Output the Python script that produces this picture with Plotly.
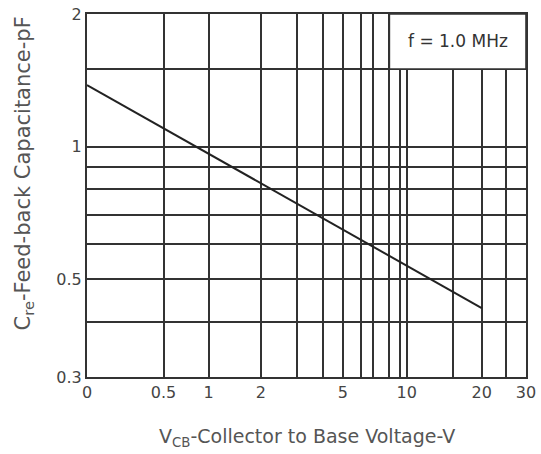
import numpy as np
import plotly.graph_objects as go

# ---- data ----
vcb = [0, 20]                 # V
cre = [1.38, 0.43]            # pF

# x-axis scale as drawn (voltage grid lines and their fraction along the axis)
x_grid_v = [0, 0.5, 1, 2, 3, 4, 5, 6, 7, 8, 9, 10, 15, 20, 25, 30]
x_grid_frac = [0, 0.1744, 0.2768, 0.3961, 0.4794, 0.5386, 0.5827, 0.6237,
               0.6524, 0.6888, 0.7132, 0.7284, 0.8331, 0.8992, 0.9545, 1.0]
x_tick_v = [0, 0.5, 1, 2, 5, 10, 20, 30]
x_tick_text = ["0", "0.5", "1", "2", "5", "10", "20", "30"]

y_grid = [0.3, 0.4, 0.5, 0.6, 0.7, 0.8, 0.9, 1, 1.5, 2]
y_tick_v = [0.3, 0.5, 1, 2]
y_tick_text = ["0.3", "0.5", "1", "2"]


def xs(v):
    return np.interp(v, x_grid_v, x_grid_frac)


ink = "#333333"
font = "DejaVu Sans, Verdana, sans-serif"

fig = go.Figure()
fig.add_trace(go.Scatter(x=xs(vcb), y=cre, mode="lines",
                         line=dict(color="#222222", width=2), hoverinfo="skip"))

# annotation box region (grid hidden behind it)
fig.add_shape(type="rect", xref="x", yref="y", x0=float(xs(8)), x1=1.0, y0=1.5, y1=2,
              fillcolor="white", line=dict(color=ink, width=1.6), layer="above")
fig.add_annotation(x=(float(xs(8)) + 1.0) / 2, y=np.log10(1.74), xref="x", yref="y",
                   text="f = 1.0 MHz", showarrow=False,
                   font=dict(family=font, size=17, color="#333"))

grid_minor_x = [float(xs(v)) for v in x_grid_v if v not in x_tick_v]
grid_minor_y = [v for v in y_grid if v not in y_tick_v]

fig.update_xaxes(range=[0, 1], tickmode="array", tickvals=[float(xs(v)) for v in x_tick_v],
                 ticktext=x_tick_text, automargin=False,
                 showgrid=True, gridcolor=ink, gridwidth=1.6, zeroline=False,
                 minor=dict(tickmode="array", tickvals=grid_minor_x, showgrid=True,
                            gridcolor=ink, gridwidth=1.6, ticks=""),
                 showline=True, linecolor=ink, linewidth=2, mirror=True,
                 ticks="", tickfont=dict(family=font, size=16, color="#444"))
fig.update_yaxes(type="log", range=[np.log10(0.3), np.log10(2)], tickmode="array",
                 tickvals=y_tick_v, ticktext=y_tick_text, automargin=False,
                 showgrid=True, gridcolor=ink, gridwidth=1.6, zeroline=False,
                 minor=dict(tickmode="array", tickvals=grid_minor_y, showgrid=True,
                            gridcolor=ink, gridwidth=1.6, ticks=""),
                 showline=True, linecolor=ink, linewidth=2, mirror=True,
                 ticks="", tickfont=dict(family=font, size=16, color="#444"))

fig.add_annotation(xref="paper", yref="paper", x=0.5, y=-0.167, xanchor="center", yanchor="middle",
                   text="V<sub>CB</sub>-Collector to Base Voltage-V", showarrow=False,
                   font=dict(family=font, size=19, color="#555"))
fig.add_annotation(xref="paper", yref="paper", x=-0.144, y=0.56, xanchor="center", yanchor="middle",
                   text="C<sub>re</sub>-Feed-back Capacitance-pF", showarrow=False, textangle=-90,
                   font=dict(family=font, size=21, color="#555"))

fig.update_layout(width=541, height=454, margin=dict(l=87, r=15, t=14, b=77, autoexpand=False),
                  plot_bgcolor="white", paper_bgcolor="white", showlegend=False)

fig.write_html("out.html", config={"displayModeBar": False},
               post_script="document.body.style.margin='0px';")
